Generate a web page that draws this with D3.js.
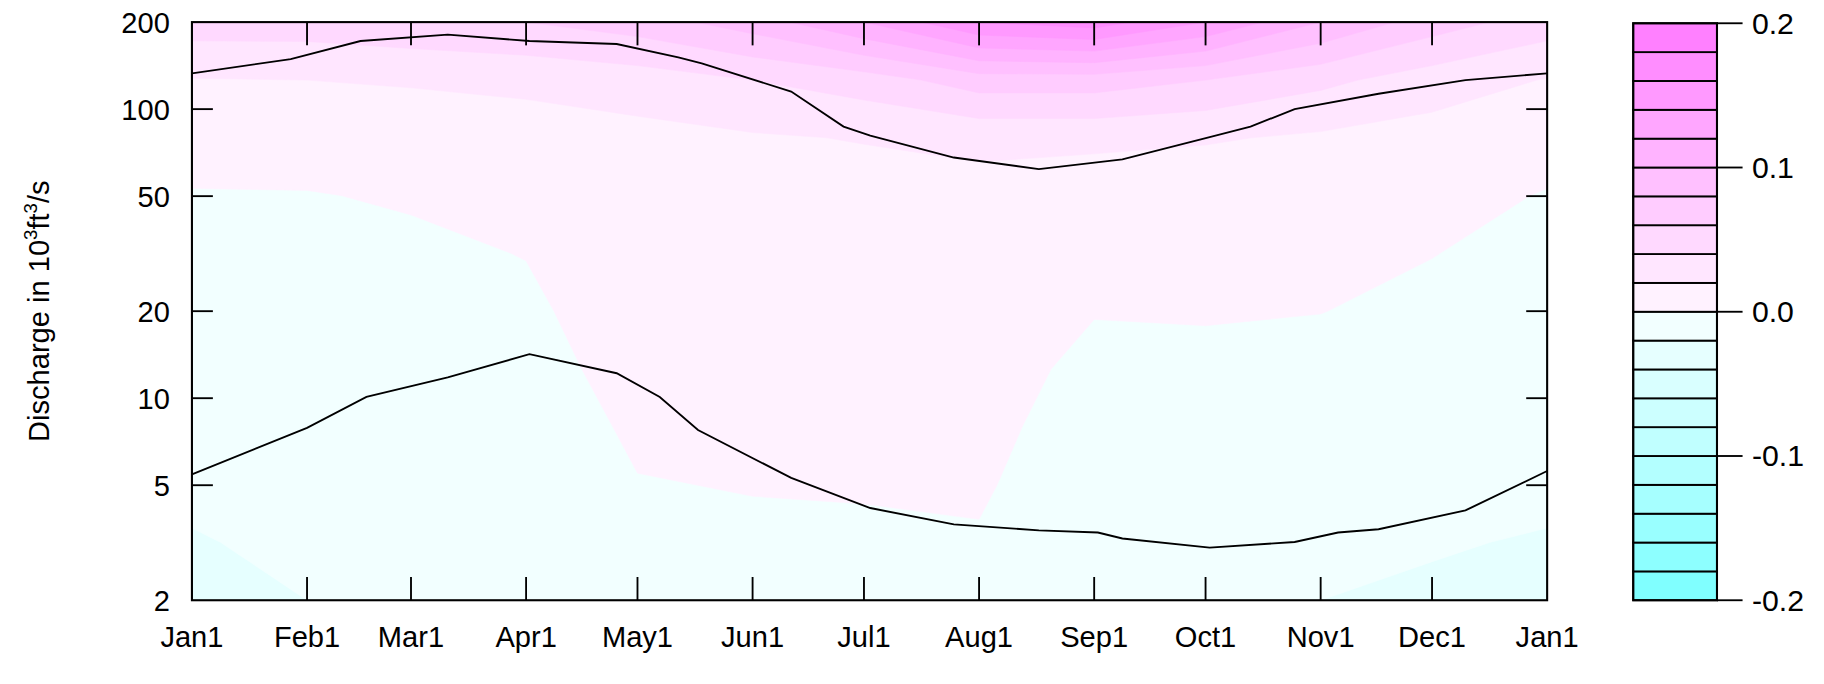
<!DOCTYPE html>
<html>
<head>
<meta charset="utf-8">
<script src="https://cdn.jsdelivr.net/npm/d3@7"></script>
<style>
  body { margin: 0; background: #fff; }
  text { font-family: "Liberation Sans", Arial, sans-serif; }
</style>
</head>
<body>
<div id="chart"></div>
<script>
// grid columns: day of year at each month start
const gridDays = [0, 31, 59, 90, 120, 151, 181, 212, 243, 273, 304, 334, 365];
// grid rows: discharge (10^3 ft3/s), evenly spaced in log
const gridQ = [2, 3.17, 5.02, 7.96, 12.6, 20, 31.7, 50.2, 79.6, 126, 200];
// values per column (Jan..Jan), from low discharge to high discharge
const gridValues = [
  [-.024, -.021, -.017, -.014, -.011, -.007, -.004, -.0007, .005, .019, .05],
  [-.020, -.017, -.014, -.011, -.008, -.005, -.003, -.0005, .005, .020, .05],
  [-.018, -.015, -.012, -.010, -.007, -.004, -.002, .001, .007, .022, .055],
  [-.015, -.012, -.010, -.007, -.004, -.002, .0003, .004, .010, .025, .06],
  [-.006, -.003, -.0005, .002, .004, .006, .008, .010, .014, .030, .07],
  [-.005, -.002, .0005, .003, .005, .007, .009, .011, .018, .040, .09],
  [-.005, -.002, .001, .003, .005, .007, .009, .012, .021, .050, .12],
  [-.004, -.001, .0015, .003, .005, .007, .009, .013, .025, .070, .16],
  [-.012, -.010, -.008, -.005, -.003, .0005, .003, .007, .025, .070, .17],
  [-.019, -.015, -.011, -.007, -.003, .001, .003, .006, .022, .060, .14],
  [-.020, -.016, -.012, -.008, -.004, .0002, .003, .006, .017, .045, .10],
  [-.022, -.019, -.015, -.011, -.007, -.003, .0003, .004, .012, .030, .07],
  [-.024, -.021, -.017, -.014, -.011, -.007, -.004, -.0007, .005, .019, .05]
];
// upper and lower black lines
const upperDays = [0, 26.6, 45.4, 68.9, 90.9, 114.4, 131, 137.3, 161.4, 175.5, 182.7, 205.2, 228.1, 250.6, 274.1, 285.1, 297, 319.6, 343, 365];
const upperQ = [133, 149, 172, 181, 172, 168, 151, 144, 115, 87, 81, 68, 62, 67, 80, 87, 100, 113, 126, 133];
const lowerDays = [0, 31, 47, 68.9, 90.9, 114.4, 126, 136.3, 161.4, 182.7, 205.2, 228.1, 244, 250.6, 274.1, 297, 308.7, 319.6, 343, 365];
const lowerQ = [5.45, 7.9, 10.1, 11.8, 14.2, 12.2, 10.1, 7.76, 5.3, 4.17, 3.66, 3.49, 3.43, 3.27, 3.04, 3.18, 3.43, 3.52, 4.09, 5.6];

const monthDays = [0, 31, 59, 90, 120, 151, 181, 212, 243, 273, 304, 334, 365];
const monthLabels = ["Jan1", "Feb1", "Mar1", "Apr1", "May1", "Jun1", "Jul1", "Aug1", "Sep1", "Oct1", "Nov1", "Dec1", "Jan1"];
const yTicks = [2, 5, 10, 20, 50, 100, 200];
const levelTicks = [-0.2, -0.1, 0, 0.1, 0.2];
const levelLabels = ["-0.2", "-0.1", "0.0", "0.1", "0.2"];

const W = 1824, H = 684;
const k = W / 1568; // layout below is laid out on a 1568-wide grid
const pLeft = 165, pRight = 1330, pTop = 19, pBottom = 516;

const root = d3.select("#chart").append("svg").attr("width", W).attr("height", H);
const svg = root.append("g").attr("transform", `scale(${k})`);

const x = d3.scaleLinear().domain([0, 365]).range([pLeft, pRight]);
const y = d3.scaleLog().domain([2, 200]).range([pBottom, pTop]);

function bandColor(b) {
  // b: band index, band covers [b*0.02, (b+1)*0.02]
  if (b >= 0) return d3.interpolateRgb("#ffffff", "#ff80ff")((b + 1) / 10);
  return d3.interpolateRgb("#ffffff", "#80ffff")(-b / 10);
}

// contour grid: x = columns (time), y = rows (discharge)
const nx = gridDays.length, ny = gridQ.length;
const flat = [];
for (let j = 0; j < ny; j++) {
  for (let i = 0; i < nx; i++) flat.push(gridValues[i][j]);
}
const thresholds = d3.range(-10, 10).map(b => b * 0.02);
const contours = d3.contours().size([nx, ny]).thresholds(thresholds)(flat);

function interpIdx(arr, c) {
  const t = Math.max(0, Math.min(arr.length - 1, c - 0.5));
  const i = Math.min(arr.length - 2, Math.floor(t));
  return [i, t - i];
}
const proj = d3.geoTransform({
  point: function(cx, cy) {
    const [i, fi] = interpIdx(gridDays, cx);
    const px = x(gridDays[i] + fi * (gridDays[i + 1] - gridDays[i]));
    const [j, fj] = interpIdx(gridQ, cy);
    const lq = Math.log10(gridQ[j]) + fj * (Math.log10(gridQ[j + 1]) - Math.log10(gridQ[j]));
    this.stream.point(px, y(Math.pow(10, lq)));
  }
});
const path = d3.geoPath(proj);

svg.append("clipPath").attr("id", "clip").append("rect")
  .attr("x", pLeft).attr("y", pTop).attr("width", pRight - pLeft).attr("height", pBottom - pTop);

svg.append("g").attr("clip-path", "url(#clip)")
  .selectAll("path").data(contours).enter().append("path")
  .attr("d", path)
  .attr("fill", d => bandColor(Math.round(d.value / 0.02)))
  .attr("stroke", d => bandColor(Math.round(d.value / 0.02)))
  .attr("stroke-width", 0.5);

// lines
const line = d3.line().x(d => x(d[0])).y(d => y(d[1]));
[[upperDays, upperQ], [lowerDays, lowerQ]].forEach(function(s) {
  svg.append("path")
    .attr("d", line(s[0].map((d, i) => [d, s[1][i]])))
    .attr("fill", "none").attr("stroke", "#000").attr("stroke-width", 1.6);
});

// frame and ticks
svg.append("rect").attr("x", pLeft).attr("y", pTop).attr("width", pRight - pLeft).attr("height", pBottom - pTop)
  .attr("fill", "none").attr("stroke", "#000").attr("stroke-width", 1.8);

const ticks = svg.append("g").attr("stroke", "#000").attr("stroke-width", 1.6);
monthDays.slice(1, -1).forEach(function(d) {
  ticks.append("line").attr("x1", x(d)).attr("x2", x(d)).attr("y1", pBottom).attr("y2", pBottom - 20);
  ticks.append("line").attr("x1", x(d)).attr("x2", x(d)).attr("y1", pTop).attr("y2", pTop + 20);
});
yTicks.slice(1, -1).forEach(function(q) {
  ticks.append("line").attr("x1", pLeft).attr("x2", pLeft + 18).attr("y1", y(q)).attr("y2", y(q));
  ticks.append("line").attr("x1", pRight).attr("x2", pRight - 18).attr("y1", y(q)).attr("y2", y(q));
});

svg.selectAll(".xl").data(monthLabels).enter().append("text")
  .attr("x", (d, i) => x(monthDays[i])).attr("y", 556)
  .attr("text-anchor", "middle").attr("font-size", 25).text(d => d);

svg.selectAll(".yl").data(yTicks).enter().append("text")
  .attr("x", pLeft - 19).attr("y", d => y(d) + 9)
  .attr("text-anchor", "end").attr("font-size", 25).text(d => d);

const yt = svg.append("text").attr("transform", `translate(42, ${(pTop + pBottom) / 2}) rotate(-90)`)
  .attr("text-anchor", "middle").attr("font-size", 25);
yt.append("tspan").text("Discharge in 10");
yt.append("tspan").attr("font-size", 16).attr("dy", -10).text("3");
yt.append("tspan").attr("dy", 10).text("ft");
yt.append("tspan").attr("font-size", 16).attr("dy", -10).text("3");
yt.append("tspan").attr("dy", 10).text("/s");

// colour bar
const cbx = 1404, cbw = 72;
const cyS = d3.scaleLinear().domain([-0.2, 0.2]).range([pBottom, 20]);
const bands = d3.range(-10, 10);
svg.selectAll(".cb").data(bands).enter().append("rect")
  .attr("x", cbx).attr("width", cbw)
  .attr("y", b => cyS((b + 1) * 0.02)).attr("height", b => cyS(b * 0.02) - cyS((b + 1) * 0.02))
  .attr("fill", b => bandColor(b)).attr("stroke", "#000").attr("stroke-width", 1.6);
svg.append("rect").attr("x", cbx).attr("y", 20).attr("width", cbw).attr("height", pBottom - 20)
  .attr("fill", "none").attr("stroke", "#000").attr("stroke-width", 1.8);
levelTicks.forEach(function(v, i) {
  svg.append("line").attr("x1", cbx + cbw).attr("x2", cbx + cbw + 22)
    .attr("y1", cyS(v)).attr("y2", cyS(v)).attr("stroke", "#000").attr("stroke-width", 1.6);
  svg.append("text").attr("x", cbx + cbw + 30).attr("y", cyS(v) + 9)
    .attr("font-size", 26).text(levelLabels[i]);
});
</script>
</body>
</html>
